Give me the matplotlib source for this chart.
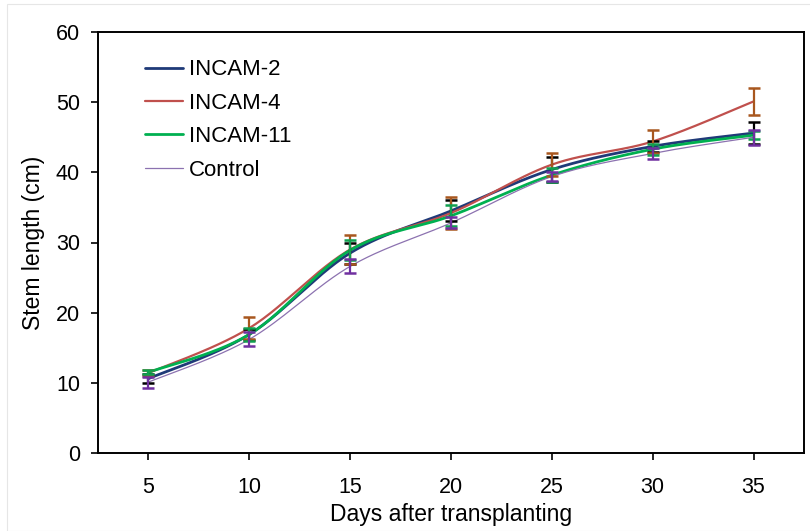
import numpy as np
import matplotlib
matplotlib.use("Agg")
import matplotlib.pyplot as plt
from matplotlib.patches import Rectangle

days = [5, 10, 15, 20, 25, 30, 35]
series_names = ["INCAM-2", "INCAM-4", "INCAM-11", "Control"]
incam2 = [10.6, 16.9, 28.5, 34.5, 40.4, 43.7, 45.6]
incam2_err = [0.6, 0.8, 1.5, 1.5, 1.8, 0.8, 1.6]
incam4 = [11.4, 17.8, 29.0, 34.2, 41.1, 44.4, 50.1]
incam4_err = [0.4, 1.6, 2.0, 2.3, 1.6, 1.6, 1.9]
incam11 = [11.5, 16.9, 28.9, 33.8, 39.6, 43.3, 45.3]
incam11_err = [0.3, 0.9, 1.4, 1.5, 1.0, 0.8, 0.6]
control = [10.1, 16.2, 26.6, 32.8, 39.4, 42.7, 45.0]
control_err = [0.8, 1.0, 1.0, 0.8, 0.6, 0.8, 1.1]
y_ticks = [0, 10, 20, 30, 40, 50, 60]

plt.rcParams['font.family'] = ['Liberation Sans', 'DejaVu Sans']


def smooth(x, y, n=30):
    x = np.asarray(x, float)
    y = np.asarray(y, float)
    P = np.column_stack([x, y])
    out = []
    m = len(P)
    for i in range(m - 1):
        p0 = P[i]
        p3 = P[i + 1]
        prev = P[i - 1] if i > 0 else P[i]
        nxt = P[i + 2] if i + 2 < m else P[i + 1]
        c1 = p0 + (p3 - prev) / 6.0
        c2 = p3 - (nxt - p0) / 6.0
        t = np.linspace(0, 1, n)[:, None]
        seg = ((1 - t) ** 3) * p0 + 3 * ((1 - t) ** 2) * t * c1 + 3 * (1 - t) * t ** 2 * c2 + t ** 3 * p3
        if i > 0:
            seg = seg[1:]
        out.append(seg)
    out = np.vstack(out)
    return out[:, 0], out[:, 1]


fig = plt.figure(figsize=(8.1, 5.31), dpi=100)
fig.patches.append(Rectangle((7 / 810, 0.0), 1.0, 1 - 4 / 531, transform=fig.transFigure,
                             fill=False, edgecolor='#e6e6e6', linewidth=0.8))
ax = fig.add_axes([98 / 810, (531 - 453) / 531, (804 - 98) / 810, (453 - 32) / 531])

data = [incam2, incam4, incam11, control]
errs = [incam2_err, incam4_err, incam11_err, control_err]
line_colors = ['#1F3A78', '#C0504D', '#00B050', '#8C72B0']
line_widths = [2.0, 1.6, 2.0, 0.9]
err_colors = ['#000000', '#A8571E', '#10A050', '#7030A0']

handles = []
for vals, lc, lw, name in zip(data, line_colors, line_widths, series_names):
    sx, sy = smooth(days, vals)
    h, = ax.plot(sx, sy, color=lc, lw=lw, label=name, zorder=2, solid_capstyle='round')
    handles.append(h)

for vals, e, ec in zip(data, errs, err_colors):
    ax.errorbar(days, vals, yerr=e, fmt='none', ecolor=ec, elinewidth=1.6,
                capsize=4, capthick=1.8, zorder=3)

ax.set_xlim(2.5, 37.5)
ax.set_ylim(0, 60)
ax.set_xticks(days)
ax.set_yticks(y_ticks)
ax.tick_params(axis='both', direction='out', length=5, width=1.2, labelsize=15.5, colors='black')
ax.tick_params(axis='x', pad=12)
ax.tick_params(axis='y', pad=8)
for s in ax.spines.values():
    s.set_linewidth(1.4)
    s.set_color('black')

ax.set_xlabel('Days after transplanting', fontsize=16.5, labelpad=4)
ax.set_ylabel('Stem length (cm)', fontsize=16.5, labelpad=8)

leg = ax.legend(handles=handles, loc='upper left', bbox_to_anchor=(0.066, 0.935), frameon=False,
                fontsize=16, handlelength=1.75, handletextpad=0.25, labelspacing=0.56,
                borderaxespad=0, borderpad=0)

fig.savefig('out.png', dpi=100)
